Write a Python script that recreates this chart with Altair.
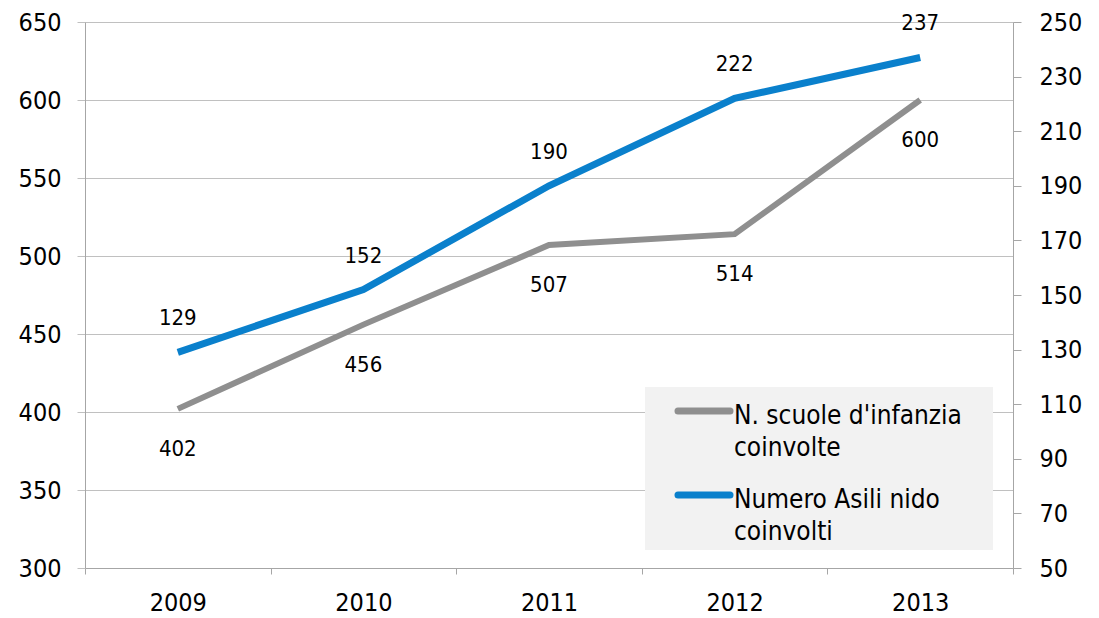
import altair as alt
import pandas as pd

years = ["2009", "2010", "2011", "2012", "2013"]
scuole = [402, 456, 507, 514, 600]
asili = [129, 152, 190, 222, 237]
legend_labels = ["N. scuole d'infanzia\ncoinvolte", "Numero Asili nido\ncoinvolti"]

df = pd.DataFrame({"anno": years, "scuole": scuole, "asili": asili})

FONT = "DejaVu Sans Condensed, DejaVu Sans"
GRAY = "#8f8f8f"
BLUE = "#0a80cc"
AXC = "#a6a6a6"

x_enc = alt.X("anno:N", sort=years, title=None,
              scale=alt.Scale(paddingInner=0, paddingOuter=0),
              axis=alt.Axis(labelAngle=0, labelFontSize=25, labelFont=FONT, labelColor="black",
                            tickBand="extent", tickSize=6, tickColor=AXC, domainColor=AXC,
                            labelPadding=16, grid=False))

base = alt.Chart(df)

y_left = alt.Y("scuole:Q", title=None,
               scale=alt.Scale(domain=[300, 650], nice=False, zero=False),
               axis=alt.Axis(values=list(range(300, 651, 50)), labelFontSize=25, labelFont=FONT,
                             labelColor="black", tickSize=8, tickColor="#c0c0c0", domainColor=AXC,
                             gridColor="#c0c0c0", grid=True, labelPadding=16))

gray_line = base.mark_line(color=GRAY, strokeWidth=6, strokeCap="butt").encode(x=x_enc, y=y_left)
gray_text = base.mark_text(dy=40, fontSize=22, font=FONT, color="black").encode(
    x=x_enc, y=y_left, text="scuole:Q")

y_right = alt.Y("asili:Q", title=None,
                scale=alt.Scale(domain=[50, 250], nice=False, zero=False),
                axis=alt.Axis(orient="right", values=list(range(50, 251, 20)), labelFontSize=25,
                              labelFont=FONT, labelColor="black", tickSize=8, tickColor=AXC,
                              domainColor=AXC, grid=False, labelPadding=18))

blue_line = base.mark_line(color=BLUE, strokeWidth=7, strokeCap="butt").encode(x=x_enc, y=y_right)
blue_text = base.mark_text(dy=-34, fontSize=22, font=FONT, color="black").encode(
    x=x_enc, y=y_right, text="asili:Q")

leg_df = pd.DataFrame({"label": legend_labels, "col": [GRAY, BLUE], "yy": [389, 473]})
leg_base = alt.Chart(leg_df)
leg_box = alt.Chart(pd.DataFrame({"a": [0]})).mark_rect(color="#f2f2f2").encode(
    x=alt.value(560), x2=alt.value(908), y=alt.value(365), y2=alt.value(528))
leg_sym = leg_base.mark_rule(strokeWidth=7, strokeCap="round").encode(
    x=alt.value(593), x2=alt.value(645), y=alt.Y("yy:Q", scale=None),
    color=alt.Color("col:N", scale=None))
leg_txt = leg_base.mark_text(align="left", baseline="middle", fontSize=26, font=FONT,
                             color="black", lineBreak="\n", lineHeight=32, dy=5).encode(
    x=alt.value(649), y=alt.Y("yy:Q", scale=None), text="label:N")

chart = alt.layer(
    alt.layer(gray_line, gray_text),
    alt.layer(blue_line, blue_text),
    leg_box, leg_sym, leg_txt,
).resolve_scale(y="independent").properties(
    width=928, height=546, padding={"left": 10, "top": 2, "right": 5, "bottom": 0}
).configure_view(stroke=None).configure(background="white")

chart.save("out.html", embed_options={"renderer": "svg", "actions": False})
